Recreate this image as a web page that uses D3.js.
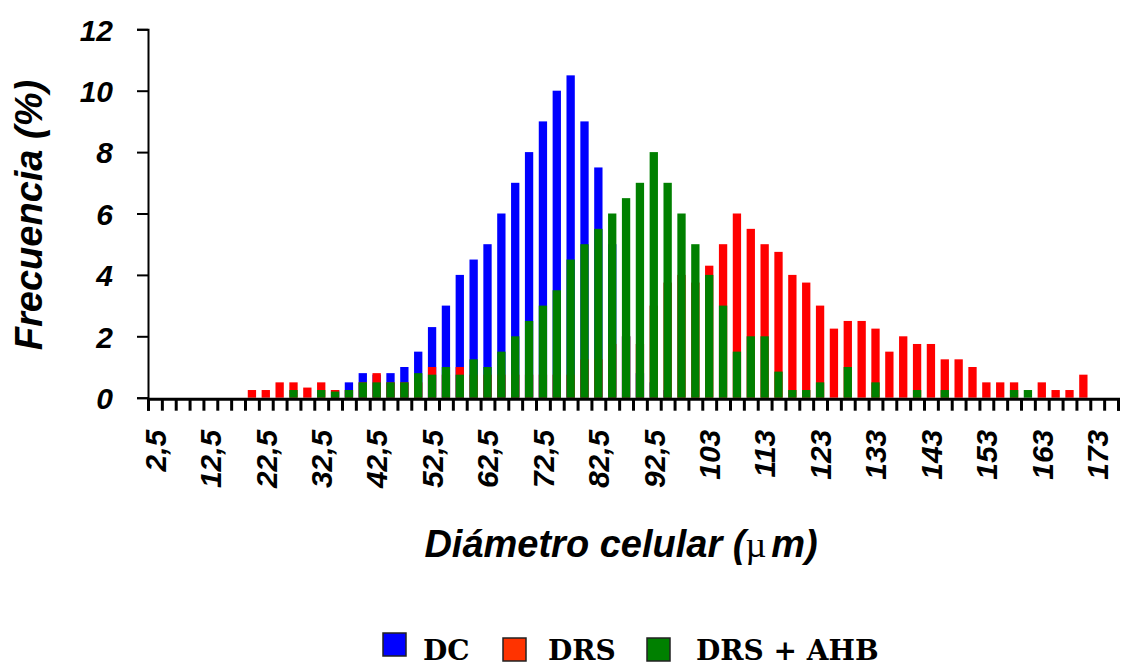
<!DOCTYPE html>
<html>
<head>
<meta charset="utf-8">
<script src="https://cdn.jsdelivr.net/npm/d3@7"></script>
<style>
  html, body { margin: 0; padding: 0; background: #fff; }
  svg { display: block; }
</style>
</head>
<body>
<svg id="chart" width="1128" height="667"></svg>
<script>
// Category midpoints (µm)
const categories = [
  2.5, 5, 7.5, 10, 12.5, 15, 17.5, 20, 22.5, 25,
  27.5, 30, 32.5, 35, 37.5, 40, 42.5, 45, 47.5, 50,
  52.5, 55, 57.5, 60, 62.5, 65, 67.5, 70, 72.5, 75,
  77.5, 80, 82.5, 85, 87.5, 90, 92.5, 95, 97.5, 100,
  102.5, 105, 107.5, 110, 112.5, 115, 117.5, 120, 122.5, 125,
  127.5, 130, 132.5, 135, 137.5, 140, 142.5, 145, 147.5, 150,
  152.5, 155, 157.5, 160, 162.5, 165, 167.5, 170, 172.5, 175
];

// Labelled categories and their text
const tickCategories = [2.5, 12.5, 22.5, 32.5, 42.5, 52.5, 62.5, 72.5, 82.5, 92.5,
  102.5, 112.5, 122.5, 132.5, 142.5, 152.5, 162.5, 172.5];
const tickLabels = ["2,5", "12,5", "22,5", "32,5", "42,5", "52,5", "62,5", "72,5", "82,5", "92,5",
  "103", "113", "123", "133", "143", "153", "163", "173"];

const yTicks = [0, 2, 4, 6, 8, 10, 12];

// Series (frequency, %)
const seriesDC = [
  0, 0, 0, 0, 0, 0, 0, 0, 0, 0,
  0, 0, 0, 0.25, 0.5, 0.8, 0.75, 0.8, 1.0, 1.5,
  2.3, 3.0, 4.0, 4.5, 5.0, 6.0, 7.0, 8.0, 9.0, 10.0,
  10.5, 9.0, 7.5, 5.0, 2.0, 0.8, 0.5, 0.25, 0, 0,
  0, 0, 0, 0, 0, 0, 0, 0, 0, 0,
  0, 0, 0, 0, 0, 0, 0, 0, 0, 0,
  0, 0, 0, 0, 0, 0, 0, 0, 0, 0
];
const seriesDRS = [
  0, 0, 0, 0, 0, 0, 0, 0.25, 0.25, 0.5,
  0.5, 0.33, 0.5, 0.25, 0.25, 0.5, 0.8, 0.5, 0.5, 0.5,
  1.0, 0.75, 1.0, 0.75, 0.75, 0.75, 0.75, 0.75, 0.75, 0.75,
  0.75, 1.25, 1.25, 1.75, 2.0, 1.75, 3.0, 3.75, 4.0, 3.75,
  4.3, 5.0, 6.0, 5.5, 5.0, 4.75, 4.0, 3.75, 3.0, 2.25,
  2.5, 2.5, 2.25, 1.5, 2.0, 1.75, 1.75, 1.25, 1.25, 1.0,
  0.5, 0.5, 0.5, 0, 0.5, 0.25, 0.25, 0.75, 0, 0
];
const seriesAHB = [
  0, 0, 0, 0, 0, 0, 0, 0, 0, 0,
  0.25, 0, 0.25, 0.2, 0.25, 0.5, 0.5, 0.5, 0.5, 0.8,
  0.75, 1.0, 0.75, 1.25, 1.0, 1.5, 2.0, 2.5, 3.0, 3.5,
  4.5, 5.0, 5.5, 6.0, 6.5, 7.0, 8.0, 7.0, 6.0, 5.0,
  4.0, 3.0, 1.5, 2.0, 2.0, 0.85, 0.25, 0.25, 0.5, 0,
  1.0, 0, 0.5, 0, 0, 0.25, 0, 0.25, 0, 0,
  0, 0, 0.25, 0.25, 0, 0, 0, 0, 0, 0
];

const seriesNames = ["DC", "DRS", "DRS + AHB"];
const barColors = ["#0000FF", "#FF0000", "#008000"];
const legendColors = ["#0000FF", "#FF3300", "#008000"];

const svg = d3.select("#chart");
const fontSans = "'Liberation Sans', Arial, sans-serif";
const fontSerif = "'DejaVu Serif', serif";

const x0 = 148, x1 = 1118, yBottom = 397.7, yTop = 29.3;

const x = d3.scaleBand().domain(categories).range([x0, x1]).padding(0);
const xEdge = d3.scaleLinear().domain([0, categories.length]).range([x0, x1]);
const y = d3.scaleLinear().domain([0, 12]).range([yBottom, yTop]);

const barW = x.bandwidth() * 0.6;

// Bars: DC behind, DRS middle, DRS+AHB front
const allSeries = [seriesDC, seriesDRS, seriesAHB];
allSeries.forEach((vals, si) => {
  svg.append("g")
    .selectAll("rect")
    .data(vals.map((v, i) => ({ c: categories[i], v })).filter(d => d.v > 0))
    .join("rect")
    .attr("x", d => x(d.c) + (x.bandwidth() - barW) / 2)
    .attr("width", barW)
    .attr("y", d => y(d.v))
    .attr("height", d => y(0) - y(d.v))
    .attr("fill", barColors[si]);
});

// Y axis
const yAxis = svg.append("g")
  .attr("transform", `translate(${x0},0)`)
  .call(d3.axisLeft(y).tickValues(yTicks).tickSize(11).tickPadding(24).tickFormat(d3.format("d")));
yAxis.select(".domain").attr("stroke", "#000").attr("stroke-width", 2);
yAxis.selectAll(".tick line").attr("stroke", "#000").attr("stroke-width", 2);
yAxis.selectAll(".tick text")
  .attr("font-family", fontSans)
  .attr("font-size", 30)
  .attr("font-weight", "bold")
  .attr("font-style", "italic")
  .attr("fill", "#000")
  .attr("dy", "0.36em");

// X axis: tick marks at category boundaries
const xAxisTicks = svg.append("g")
  .attr("transform", `translate(0,${yBottom + 1})`)
  .call(d3.axisBottom(xEdge).tickValues(d3.range(categories.length + 1)).tickSize(12).tickFormat(""));
xAxisTicks.select(".domain").attr("stroke", "#000").attr("stroke-width", 3);
xAxisTicks.selectAll(".tick line").attr("stroke", "#000").attr("stroke-width", 3);

// X axis labels at category centres
const xAxisLabels = svg.append("g")
  .attr("transform", `translate(0,${yBottom + 1})`)
  .call(d3.axisBottom(x).tickValues(tickCategories).tickSize(0)
    .tickFormat(d => tickLabels[tickCategories.indexOf(d)]));
xAxisLabels.select(".domain").remove();
xAxisLabels.selectAll(".tick text")
  .attr("font-family", fontSans)
  .attr("font-size", 30)
  .attr("font-weight", "bold")
  .attr("font-style", "italic")
  .attr("fill", "#000")
  .attr("text-anchor", "end")
  .attr("transform", "rotate(-90)")
  .attr("x", -31)
  .attr("y", 0)
  .attr("dy", "0.36em");

// Axis titles
svg.append("text")
  .attr("transform", "translate(42,215) rotate(-90)")
  .attr("text-anchor", "middle")
  .attr("font-family", fontSans)
  .attr("font-size", 38)
  .attr("font-weight", "bold")
  .attr("font-style", "italic")
  .text("Frecuencia (%)");

const xt = svg.append("text")
  .attr("x", 621)
  .attr("y", 557)
  .attr("text-anchor", "middle")
  .attr("font-family", fontSans)
  .attr("font-size", 38)
  .attr("font-weight", "bold")
  .attr("font-style", "italic");
xt.append("tspan").text("Diámetro celular (");
xt.append("tspan")
  .attr("font-family", "'Liberation Serif', serif")
  .attr("font-style", "normal")
  .attr("font-weight", "normal")
  .attr("font-size", 36)
  .text("µ");
xt.append("tspan").attr("dx", 5).text("m)");

// Legend
const legendItems = [
  { sx: 383, sy: 633, tx: 423 },
  { sx: 503, sy: 638, tx: 548 },
  { sx: 647, sy: 638, tx: 696 }
];
const lg = svg.append("g");
legendItems.forEach((it, i) => {
  lg.append("rect")
    .attr("x", it.sx).attr("y", it.sy)
    .attr("width", 23).attr("height", 23)
    .attr("fill", legendColors[i])
    .attr("stroke", "#222").attr("stroke-width", 1.5);
  lg.append("text")
    .attr("x", it.tx).attr("y", 660)
    .attr("font-family", fontSerif)
    .attr("font-size", 28)
    .attr("font-weight", "bold")
    .attr("fill", "#000")
    .text(seriesNames[i]);
});
</script>
</body>
</html>
